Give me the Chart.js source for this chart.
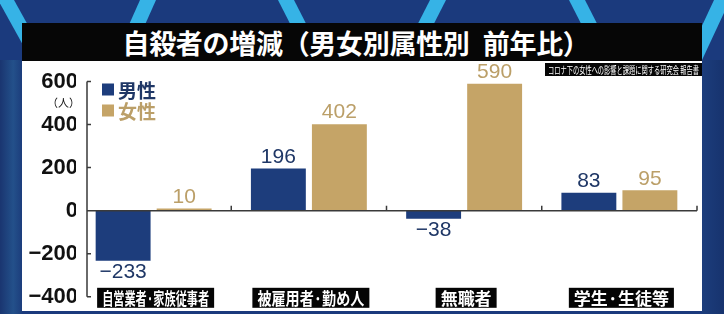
<!DOCTYPE html>
<html>
<head>
<meta charset="utf-8">
<script src="https://cdn.jsdelivr.net/npm/chart.js@4.4.1/dist/chart.umd.min.js"></script>
<style>
html,body{margin:0;padding:0;width:724px;height:314px;overflow:hidden;background:#1b3a7d;}
.stripe{position:absolute;top:0;width:16px;height:90px;background:#36b3e6;transform-origin:0 0;}
#edgeL{position:absolute;left:0;top:60px;width:22px;height:254px;background:linear-gradient(90deg,#1a3570,#23508a 60%,#1c3d7c);}
#edgeR{position:absolute;left:702px;top:60px;width:22px;height:254px;background:linear-gradient(90deg,#1c3d7c,#17336e);}
#bar{position:absolute;left:22px;top:23px;width:680px;height:38px;background:#060606;}
#title{position:absolute;left:22px;top:23px;width:668px;height:38px;line-height:38px;text-align:center;color:#fff;
  font:bold 27px "Noto Sans CJK JP";letter-spacing:-0.3px;white-space:pre;}
#panel{position:absolute;left:22px;top:61px;width:680px;height:250px;background:#fff;}
canvas{position:absolute;left:0;top:0;}
</style>
</head>
<body>
<div class="stripe" style="left:-2px;transform:skewX(29deg)"></div>
<div class="stripe" style="left:140px;transform:skewX(-24deg)"></div>
<div class="stripe" style="left:278px;transform:skewX(27deg)"></div>
<div class="stripe" style="left:430px;transform:skewX(-27deg)"></div>
<div class="stripe" style="left:569px;transform:skewX(27deg)"></div>
<div class="stripe" style="left:714px;transform:skewX(-25deg)"></div>
<div id="edgeL"></div>
<div id="edgeR"></div>
<div id="bar"></div>
<div id="title">自殺者の増減（男女別属性別&#8194;前年比）</div>
<div id="panel"></div>
<canvas id="myChart" width="724" height="314"></canvas>
<script>
var categories = ['自営業者·家族従事者', '被雇用者·勤め人', '無職者', '学生·生徒等'];
var seriesNames = ['男性', '女性'];
var maleValues = [-233, 196, -38, 83];
var femaleValues = [10, 402, 590, 95];
var yTicks = [-400, -200, 0, 200, 400, 600];
var sourceText = 'コロナ下の女性への影響と課題に関する研究会 報告書';
var unitText = '（人）';

var barColors = ['#1d3d7c', '#c5a467'];
var labelColors = ['#1f3766', '#bb9f68'];

function fmt(v) {
  return v < 0 ? '\u2212' + Math.abs(v) : String(v);
}

var decor = {
  id: 'decor',
  afterDatasetsDraw: function(chart) {
    var ctx = chart.ctx, xs = chart.scales.x, ys = chart.scales.y, a = chart.chartArea;
    var ax = a.left + 11;
    var catW = xs.getPixelForValue(1) - xs.getPixelForValue(0);
    ctx.save();
    // axes
    ctx.strokeStyle = '#3a3a3a';
    ctx.lineWidth = 1.5;
    ctx.beginPath();
    ctx.moveTo(ax, ys.getPixelForValue(yTicks[yTicks.length - 1]));
    ctx.lineTo(ax, ys.getPixelForValue(yTicks[0]));
    yTicks.forEach(function(v) {
      var py = ys.getPixelForValue(v);
      ctx.moveTo(ax, py);
      ctx.lineTo(ax + 4, py);
    });
    var y0 = ys.getPixelForValue(0);
    ctx.moveTo(ax, y0);
    ctx.lineTo(a.right, y0);
    categories.forEach(function(c, i) {
      var px = xs.getPixelForValue(i) + catW / 2;
      ctx.moveTo(px, y0);
      ctx.lineTo(px, y0 - 5);
    });
    ctx.stroke();

    // value labels
    ctx.textAlign = 'center';
    ctx.font = '21px "Liberation Sans"';
    chart.data.datasets.forEach(function(ds, i) {
      var meta = chart.getDatasetMeta(i);
      ctx.fillStyle = labelColors[i];
      meta.data.forEach(function(bar, j) {
        var v = ds.data[j];
        if (v >= 0) {
          ctx.textBaseline = 'bottom';
          ctx.fillText(fmt(v), bar.x, bar.y - 1);
        } else {
          ctx.textBaseline = 'top';
          ctx.fillText(fmt(v), bar.x, bar.y + 1);
        }
      });
    });

    // category labels in black boxes
    ctx.font = 'bold 17px "Noto Sans CJK JP"';
    ctx.textBaseline = 'middle';
    var cy = ys.getPixelForValue(yTicks[0]) + 1;
    categories.forEach(function(c, i) {
      var cx = xs.getPixelForValue(i) + 2;
      var w = Math.min(ctx.measureText(c).width, 107);
      ctx.fillStyle = '#050505';
      ctx.fillRect(cx - w / 2 - 5, cy - 10, w + 10, 20);
      ctx.fillStyle = '#ffffff';
      ctx.fillText(c, cx, cy + 1, 107);
    });

    // legend
    ctx.textAlign = 'left';
    ctx.font = 'bold 19px "Noto Sans CJK JP"';
    seriesNames.forEach(function(n, i) {
      var ly = a.top + 8 + i * 21;
      ctx.fillStyle = barColors[i];
      ctx.fillRect(ax + 15, ly - 6, 12, 12);
      ctx.fillStyle = labelColors[i];
      ctx.fillText(n, ax + 31, ly + 1);
    });

    // unit
    ctx.textAlign = 'right';
    ctx.fillStyle = '#111';
    ctx.font = '11px "Noto Sans CJK JP"';
    ctx.fillText(unitText, a.left + 4, a.top + 21);

    // source box
    ctx.fillStyle = '#050505';
    ctx.fillRect(545, 63, 157, 13);
    ctx.fillStyle = '#fff';
    ctx.textAlign = 'left';
    ctx.font = '10px "Noto Sans CJK JP"';
    ctx.fillText(sourceText, 548, 70, 151);
    ctx.restore();
  }
};

new Chart(document.getElementById('myChart'), {
  type: 'bar',
  data: {
    labels: categories,
    datasets: [
      { label: seriesNames[0], data: maleValues, backgroundColor: barColors[0] },
      { label: seriesNames[1], data: femaleValues, backgroundColor: barColors[1] }
    ]
  },
  options: {
    responsive: false,
    devicePixelRatio: 1,
    animation: false,
    categoryPercentage: 0.786,
    barPercentage: 0.9,
    layout: { padding: { top: 81.5, bottom: 17.2, left: 0, right: 27 } },
    plugins: { legend: { display: false }, tooltip: { enabled: false } },
    scales: {
      x: { display: false },
      y: {
        min: yTicks[0],
        max: yTicks[yTicks.length - 1],
        afterBuildTicks: function(s) { s.ticks = yTicks.map(function(v) { return { value: v }; }); },
        afterFit: function(s) { s.width = 76; },
        grid: { display: false, drawTicks: false },
        border: { display: false },
        ticks: {
          padding: -2,
          color: '#111',
          font: { family: 'Liberation Sans', weight: 'bold', size: 22 },
          callback: function(v) { return fmt(v); }
        }
      }
    }
  },
  plugins: [decor]
});
</script>
</body>
</html>
